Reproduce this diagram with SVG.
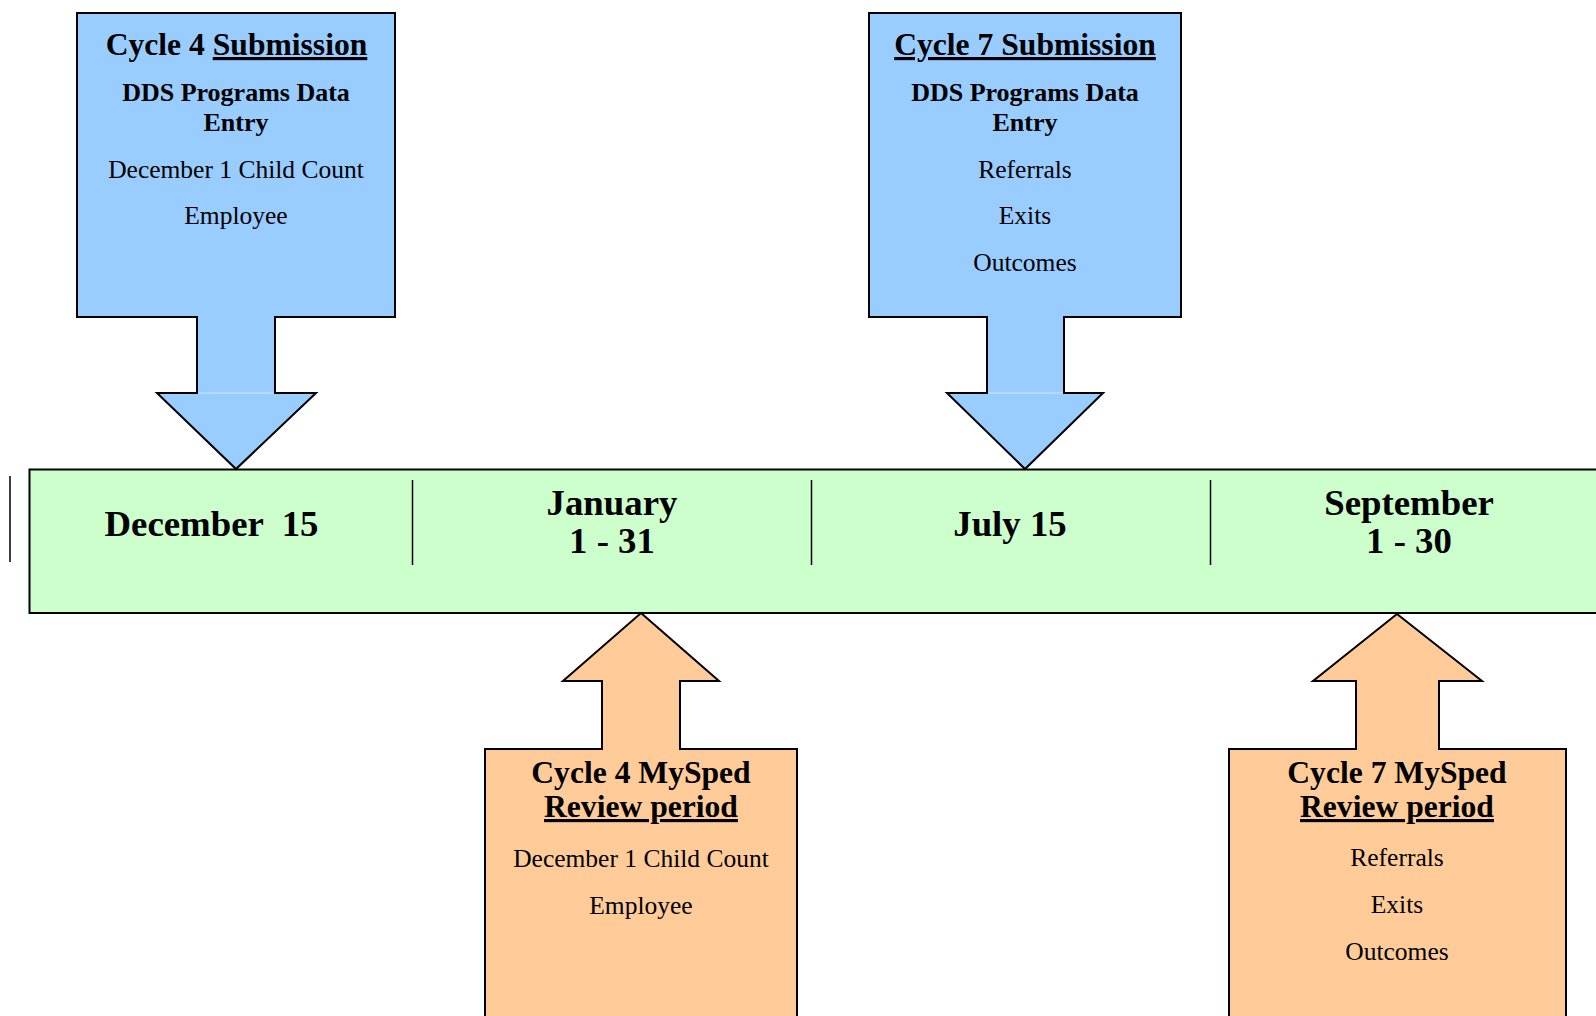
<svg xmlns="http://www.w3.org/2000/svg" width="1596" height="1016" viewBox="0 0 1596 1016">
<style>
.shape{stroke:#000;stroke-width:2;stroke-linejoin:miter}
.blue{fill:#99CCFF}
.green{fill:#CCFFCC}
.orange{fill:#FFCC99}
text{font-family:"Liberation Serif","Times New Roman",serif;fill:#000;text-anchor:middle}
.date{font-size:36.8px;font-weight:bold}
.title{font-size:31.6px;font-weight:bold}
.sub{font-size:26px;font-weight:bold}
.item{font-size:25.5px}
.u{text-decoration:underline}
.div{stroke:#000;stroke-width:1.5}
</style>
<rect width="1596" height="1016" fill="#fff"/>
<g id="timeline">
<rect class="shape green" x="29.5" y="469.5" width="1600" height="143.5"/>
<line class="div" x1="10" y1="476" x2="10" y2="562"/>
<line class="div" x1="412.5" y1="480" x2="412.5" y2="565"/>
<line class="div" x1="811.5" y1="480" x2="811.5" y2="565"/>
<line class="div" x1="1210.5" y1="480" x2="1210.5" y2="565"/>
<text class="date" x="211.5" y="536" xml:space="preserve">December  15</text>
<text class="date" x="612" y="515">January</text>
<text class="date" x="612" y="553">1 - 31</text>
<text class="date" x="1010" y="536">July 15</text>
<text class="date" x="1409" y="515">September</text>
<text class="date" x="1409" y="553">1 - 30</text>
</g>
<g id="cycle4-submission">
<polygon class="shape blue" points="77,13 395,13 395,317 275,317 275,393 316,393 236,469 157,393 197,393 197,317 77,317"/>
<line x1="198" y1="393" x2="274" y2="393" stroke="#cfe6ff" stroke-width="1"/>
<text class="title" x="236.5" y="55">Cycle 4 <tspan class="u">Submission</tspan></text>
<text class="sub" x="236" y="100.5">DDS Programs Data</text>
<text class="sub" x="236" y="130.5">Entry</text>
<text class="item" x="236" y="178">December 1 Child Count</text>
<text class="item" x="236" y="224">Employee</text>
</g>
<g id="cycle7-submission">
<polygon class="shape blue" points="869,13 1181,13 1181,317 1064,317 1064,393 1103,393 1025,469 947,393 987,393 987,317 869,317"/>
<line x1="988" y1="393" x2="1063" y2="393" stroke="#cfe6ff" stroke-width="1"/>
<text class="title u" x="1025" y="55">Cycle 7 Submission</text>
<text class="sub" x="1025" y="100.5">DDS Programs Data</text>
<text class="sub" x="1025" y="131">Entry</text>
<text class="item" x="1025" y="177.5">Referrals</text>
<text class="item" x="1025" y="223.5">Exits</text>
<text class="item" x="1025" y="270.5">Outcomes</text>
</g>
<g id="cycle4-review">
<polygon class="shape orange" points="641,613 719,681 680,681 680,749 797,749 797,1030 485,1030 485,749 602,749 602,681 563,681"/>
<text class="title" x="641" y="783">Cycle 4 MySped</text>
<text class="title u" x="641" y="817">Review period</text>
<text class="item" x="641" y="867">December 1 Child Count</text>
<text class="item" x="641" y="914">Employee</text>
</g>
<g id="cycle7-review">
<polygon class="shape orange" points="1397,614 1482,681 1439,681 1439,749 1566,749 1566,1030 1229,1030 1229,749 1356,749 1356,681 1313,681"/>
<text class="title" x="1397" y="783">Cycle 7 MySped</text>
<text class="title u" x="1397" y="817">Review period</text>
<text class="item" x="1397" y="866">Referrals</text>
<text class="item" x="1397" y="913">Exits</text>
<text class="item" x="1397" y="960">Outcomes</text>
</g>
<g id="connectors"></g>
</svg>
